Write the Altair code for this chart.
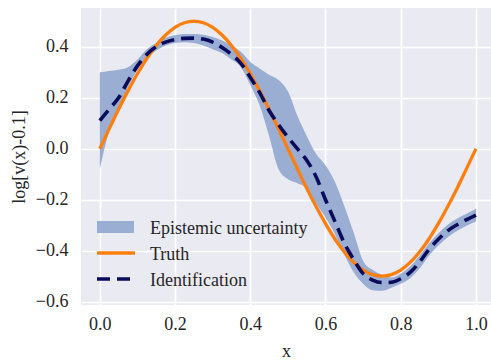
import altair as alt
import pandas as pd

# Sample positions along x
x_vals = [0.0, 0.025, 0.05, 0.075, 0.1, 0.125, 0.15, 0.175, 0.2, 0.225,
          0.25, 0.275, 0.3, 0.325, 0.35, 0.375, 0.4, 0.425, 0.45, 0.475,
          0.5, 0.525, 0.55, 0.575, 0.6, 0.625, 0.65, 0.675, 0.7, 0.725,
          0.75, 0.775, 0.8, 0.825, 0.85, 0.875, 0.9, 0.925, 0.95, 0.975, 1.0]

# Ground-truth curve
truth = [0.0, 0.078, 0.155, 0.227, 0.294, 0.354, 0.405, 0.446, 0.476, 0.494,
         0.5, 0.494, 0.476, 0.446, 0.405, 0.354, 0.294, 0.227, 0.155, 0.078,
         0.0, -0.078, -0.155, -0.227, -0.294, -0.354, -0.405, -0.446, -0.476, -0.494,
         -0.5, -0.494, -0.476, -0.446, -0.405, -0.354, -0.294, -0.227, -0.155, -0.078, 0.0]

# Identified curve (posterior mean)
ident = [0.11, 0.155, 0.20, 0.265, 0.325, 0.37, 0.40, 0.418, 0.428, 0.433,
         0.434, 0.43, 0.418, 0.397, 0.37, 0.335, 0.28, 0.22, 0.15, 0.095,
         0.045, 0.0, -0.045, -0.11, -0.20, -0.285, -0.37, -0.435, -0.49, -0.515,
         -0.525, -0.524, -0.51, -0.485, -0.445, -0.395, -0.355, -0.322, -0.298, -0.278, -0.26]

# Epistemic uncertainty band
band_hi = [0.30, 0.305, 0.31, 0.32, 0.35, 0.39, 0.415, 0.435, 0.445, 0.45,
           0.45, 0.447, 0.438, 0.425, 0.405, 0.38, 0.34, 0.315, 0.29, 0.27,
           0.225, 0.13, 0.05, -0.02, -0.065, -0.13, -0.225, -0.33, -0.44, -0.475,
           -0.495, -0.505, -0.49, -0.462, -0.42, -0.372, -0.332, -0.298, -0.274, -0.255, -0.235]
band_lo = [-0.08, 0.07, 0.155, 0.24, 0.31, 0.355, 0.385, 0.405, 0.415, 0.418,
           0.415, 0.405, 0.39, 0.375, 0.35, 0.32, 0.25, 0.17, 0.05, -0.08,
           -0.12, -0.135, -0.155, -0.215, -0.27, -0.335, -0.415, -0.485, -0.53, -0.555,
           -0.557, -0.545, -0.53, -0.508, -0.47, -0.42, -0.38, -0.347, -0.322, -0.302, -0.285]

x_ticks = [0.0, 0.2, 0.4, 0.6, 0.8, 1.0]
y_ticks = [-0.6, -0.4, -0.2, 0.0, 0.2, 0.4]

legend_labels = ["Epistemic uncertainty", "Truth", "Identification"]

BAND = "#9AAED3"
ORANGE = "#FF7F0E"
NAVY = "#0B0B5C"
FONT = "Liberation Serif"

df = pd.DataFrame({"x": x_vals, "truth": truth, "ident": ident,
                   "lo": band_lo, "hi": band_hi})

xscale = alt.Scale(domain=[-0.05, 1.04], nice=False, zero=False)
yscale = alt.Scale(domain=[-0.613, 0.552], nice=False, zero=False)

xenc = alt.X("x:Q", scale=xscale, title="x",
             axis=alt.Axis(values=x_ticks, format=".1f", labelPadding=10,
                           titlePadding=9))
yaxis = alt.Axis(values=y_ticks, format=".1f", labelPadding=13, titlePadding=7)

base = alt.Chart(df)

band = base.mark_area(color=BAND, interpolate="monotone").encode(
    x=xenc,
    y=alt.Y("lo:Q", scale=yscale, title="log[v(x)-0.1]", axis=yaxis),
    y2="hi:Q",
)

truth_line = base.mark_line(color=ORANGE, strokeWidth=3.3,
                            interpolate="monotone").encode(
    x="x:Q", y="truth:Q"
)

ident_line = base.mark_line(color=NAVY, strokeWidth=3.6, strokeDash=[13, 7],
                            interpolate="monotone").encode(
    x="x:Q", y="ident:Q"
)


def one_row(label):
    return alt.Chart(pd.DataFrame({"label": [label]}))


# Legend drawn inside the lower-left corner of the plot
leg_band = one_row(legend_labels[0]).mark_rect(color=BAND).encode(
    x=alt.value(16), x2=alt.value(53), y=alt.value(213), y2=alt.value(225)
)
leg_truth = one_row(legend_labels[1]).mark_rule(color=ORANGE, strokeWidth=3.3).encode(
    x=alt.value(16), x2=alt.value(54), y=alt.value(245)
)
leg_ident = one_row(legend_labels[2]).mark_rule(color=NAVY, strokeWidth=3.6,
                                                strokeDash=[13, 7]).encode(
    x=alt.value(16), x2=alt.value(54), y=alt.value(271)
)
leg_text = [
    one_row(lab).mark_text(align="left", baseline="alphabetic",
                           font=FONT, fontSize=18, color="#262626").encode(
        text="label:N", x=alt.value(69), y=alt.value(yy))
    for lab, yy in zip(legend_labels, [225.5, 251.5, 277.5])
]

chart = alt.layer(
    band, truth_line, ident_line, leg_band, leg_truth, leg_ident, *leg_text
).properties(
    width=410, height=297,
    autosize=alt.AutoSizeParams(type="none"),
    padding={"left": 81, "top": 8, "right": 0, "bottom": 57},
    background="white",
).configure_view(
    fill="#EAEAF2", stroke=None
).configure_axis(
    grid=True, gridColor="white", gridWidth=1.7, domain=False, ticks=False,
    labelFont=FONT, labelFontSize=18, labelColor="#262626",
    titleFont=FONT, titleFontSize=18, titleColor="#262626",
    titleFontWeight="normal",
)

chart.save("out.html", embed_options={"renderer": "svg", "actions": False})
